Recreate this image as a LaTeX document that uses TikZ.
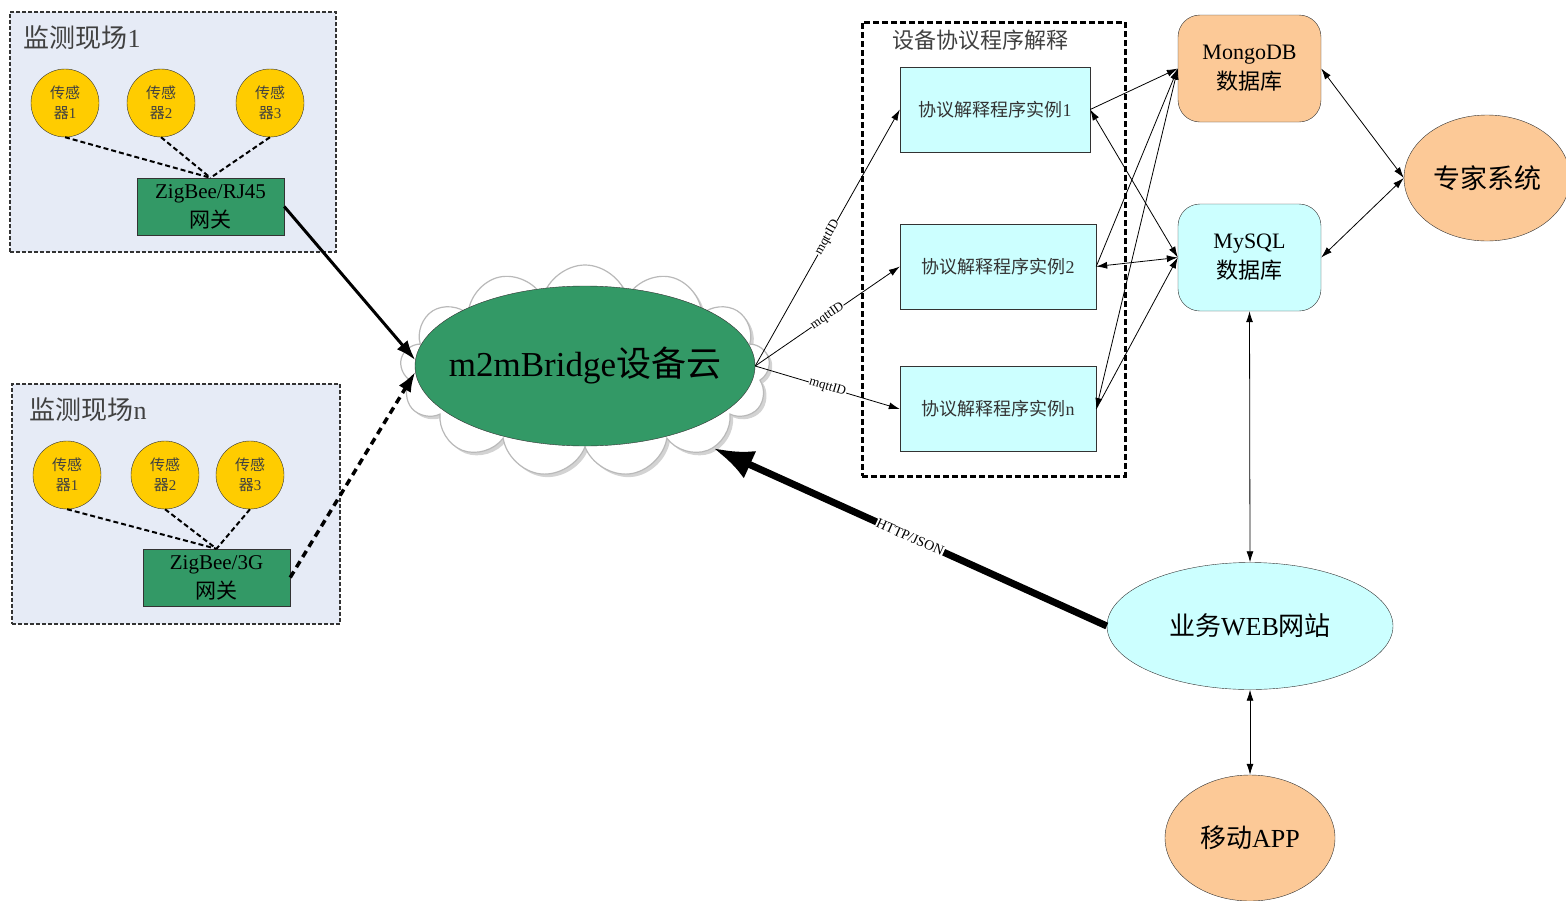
\documentclass[tikz,border=0pt]{standalone}
\usepackage{fontspec}
\setmainfont{Liberation Serif}
\newfontfamily\cjk{Noto Sans CJK SC}
\usetikzlibrary{shapes.geometric,shapes.symbols,arrows.meta,shadows}
\definecolor{sitebg}{RGB}{230,235,246}
\definecolor{gwgreen}{RGB}{51,153,102}
\definecolor{sensorgold}{RGB}{255,204,0}
\definecolor{peach}{RGB}{252,201,151}
\definecolor{paleaqua}{RGB}{204,255,255}
\newcommand{\zh}[1]{{\cjk #1}}
\newcommand{\fsz}[2]{\fontsize{#1}{#2}\selectfont}

\begin{document}
\begin{tikzpicture}[x=1pt,y=-1pt,
  sitebox/.style={draw=black!80, line width=1.5pt, dash pattern=on 4pt off 2pt, fill=sitebg, minimum width=326pt, minimum height=240pt},
  sensor/.style={circle, draw=black!80, fill=sensorgold, minimum size=68pt, inner sep=0pt, align=center, font=\fsz{15}{20}, text=black!75},
  gateway/.style={draw=black!80, fill=gwgreen, minimum width=147pt, minimum height=57pt, inner sep=0pt, align=center, font=\fsz{21}{29}},
  instbox/.style={draw=black!80, fill=paleaqua, minimum width=190pt, minimum height=85pt, inner sep=0pt, font=\fsz{18}{18}, text=black!80},
  dbbox/.style={draw=black!80, rounded corners=22pt, minimum width=143pt, minimum height=107pt, inner sep=0pt, align=center, font=\fsz{22}{30}},
  oval/.style={ellipse, draw=black!80, inner sep=0pt},
  wire/.style={line width=2pt, dash pattern=on 5pt off 3pt},
  link/.style={line width=0.8pt, -{Latex[length=11pt,width=7pt]}},
  bilink/.style={line width=0.8pt, {Latex[length=11pt,width=7pt]}-{Latex[length=11pt,width=7pt]}},
  tag/.style={midway, sloped, fill=white, inner sep=0.5pt, font=\fsz{13}{13}}]
\useasboundingbox (0,0) rectangle (1566,900);

% monitoring sites
\node[sitebox] (site1) at (173,132) {};
\node[anchor=west, font=\fsz{26}{26}, text=black!75] (site1title) at (20,38) {\zh{监测现场}1};
\node[sensor] (s11) at (65,103) {\zh{传感}\\\zh{器}1};
\node[sensor] (s12) at (161,103) {\zh{传感}\\\zh{器}2};
\node[sensor] (s13) at (270,103) {\zh{传感}\\\zh{器}3};
\node[gateway] (gw1) at (210.5,206.5) {ZigBee/RJ45\\\zh{网关}};
\foreach \s in {s11,s12,s13}
  \draw[wire] (\s.south) -- (gw1.north);

\node[sitebox, minimum width=328pt] (siten) at (176,504) {};
\node[anchor=west, font=\fsz{26}{26}, text=black!75] (sitentitle) at (26,410) {\zh{监测现场}n};
\node[sensor] (sn1) at (67,475) {\zh{传感}\\\zh{器}1};
\node[sensor] (sn2) at (165,475) {\zh{传感}\\\zh{器}2};
\node[sensor] (sn3) at (250,475) {\zh{传感}\\\zh{器}3};
\node[gateway] (gwn) at (216.5,577.5) {ZigBee/3G\\\zh{网关}};
\foreach \s in {sn1,sn2,sn3}
  \draw[wire] (\s.south) -- (gwn.north);

% device cloud
\node[cloud, cloud puffs=13, cloud ignores aspect, minimum width=370pt, minimum height=212pt,
  draw=gray!55, line width=1.2pt, fill=white,
  drop shadow={shadow xshift=3pt, shadow yshift=-3pt, opacity=0.35}] (cloud) at (585,371) {};
\node[oval, fill=gwgreen, minimum width=340pt, minimum height=160pt] (bridge) at (585,366) {};
\node[font=\fsz{35}{35}] (bridgename) at (bridge.center) {m2mBridge\zh{设备云}};

\draw[line width=3pt, -{Latex[length=20pt,width=14pt]}] (gw1.east) -- (bridge.178);
\draw[line width=3.5pt, dash pattern=on 7pt off 5pt, -{Latex[length=20pt,width=14pt]}] (gwn.east) -- (bridge.182);

% protocol interpreters
\node[draw, line width=3pt, dash pattern=on 6pt off 3pt, minimum width=263pt, minimum height=454pt] (proto) at (993.5,249) {};
\node[font=\fsz{22}{22}, text=black!75] (prototitle) at (980,40) {\zh{设备协议程序解释}};
\node[instbox] (inst1) at (995,109.5) {\zh{协议解释程序实例}1};
\node[instbox, minimum width=196pt] (inst2) at (998,266.5) {\zh{协议解释程序实例}2};
\node[instbox, minimum width=196pt] (instn) at (998,409) {\zh{协议解释程序实例}n};

\draw[link] (bridge.east) -- node[tag]{mqttID} (inst1.west);
\draw[link] (bridge.east) -- node[tag]{mqttID} (inst2.west);
\draw[link] (bridge.east) -- node[tag]{mqttID} (instn.west);

% databases
\node[dbbox, fill=peach] (mongo) at (1249.5,68.5) {MongoDB\\\zh{数据库}};
\node[dbbox, fill=paleaqua] (mysql) at (1249.5,257.5) {MySQL\\\zh{数据库}};
\node[oval, fill=peach, minimum width=166pt, minimum height=126pt, font=\fsz{27}{27}] (expert) at (1487,178) {\zh{专家系统}};

\draw[link] (inst1.east) -- (mongo.west);
\draw[bilink] (inst1.east) -- (mysql.west);
\draw[link] (inst2.east) -- (mongo.west);
\draw[bilink] (inst2.east) -- (mysql.west);
\draw[bilink] (instn.east) -- (mongo.west);
\draw[link] (instn.east) -- (mysql.west);
\draw[bilink] (mongo.east) -- (expert.west);
\draw[bilink] (mysql.east) -- (expert.west);

% web site and app
\node[oval, fill=paleaqua, minimum width=286pt, minimum height=127pt, font=\fsz{26}{26}] (web) at (1250,626) {\zh{业务}WEB\zh{网站}};
\node[oval, fill=peach, minimum width=170pt, minimum height=126pt, font=\fsz{26}{26}] (app) at (1250,838) {\zh{移动}APP};

\draw[bilink] (mysql.south) -- (web.north);
\draw[bilink] (web.south) -- (app.north);
\draw[line width=7pt, -{Latex[length=40pt,width=30pt]}] (web.west) -- node[midway, sloped, fill=white, inner sep=0.5pt, font=\fsz{14}{14}]{HTTP/JSON} (cloud.-31);
\end{tikzpicture}
\end{document}
